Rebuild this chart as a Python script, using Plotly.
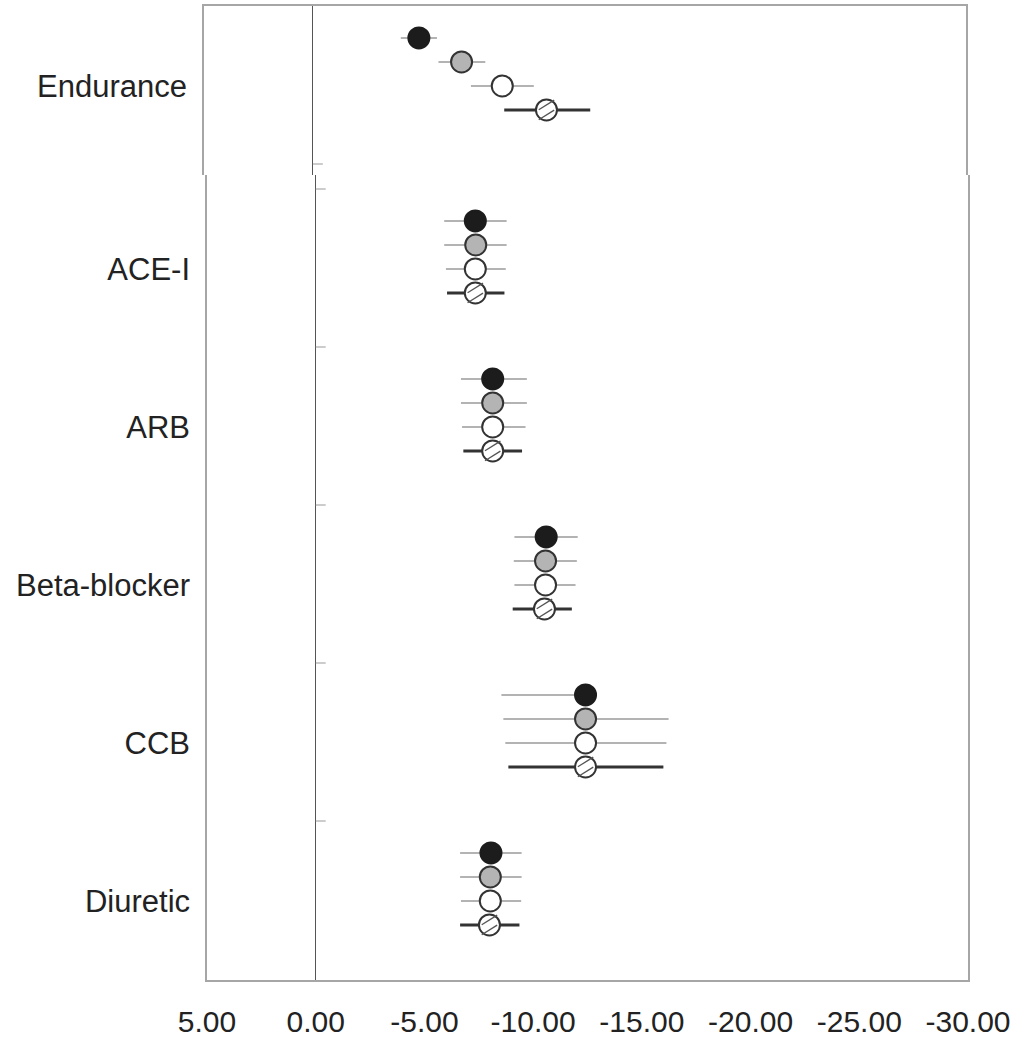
import plotly.graph_objects as go

# ---------------- data ----------------
categories = ["Endurance", "ACE-I", "ARB", "Beta-blocker", "CCB", "Diuretic"]
series_names = ["Model 1", "Model 2", "Model 3", "Model 4"]

est_1 = [-4.87, -7.34, -8.14, -10.60, -12.41, -8.06]
lo_1 = [-4.04, -5.91, -6.68, -9.14, -8.54, -6.64]
hi_1 = [-5.70, -8.78, -9.71, -12.05, -12.41, -9.47]

est_2 = [-6.83, -7.36, -8.14, -10.57, -12.41, -8.03]
lo_2 = [-5.77, -5.91, -6.68, -9.11, -8.63, -6.64]
hi_2 = [-7.92, -8.78, -9.71, -12.01, -16.23, -9.47]

est_3 = [-8.70, -7.34, -8.14, -10.57, -12.41, -8.03]
lo_3 = [-7.26, -5.99, -6.73, -9.14, -8.72, -6.68]
hi_3 = [-10.15, -8.74, -9.65, -11.95, -16.13, -9.45]

est_4 = [-10.73, -7.34, -8.14, -10.52, -12.41, -7.99]
lo_4 = [-8.79, -6.04, -6.79, -9.06, -8.86, -6.64]
hi_4 = [-12.74, -8.68, -9.49, -11.78, -15.99, -9.37]

x_ticks = [5, 0, -5, -10, -15, -20, -25, -30]
x_tick_labels = ["5.00", "0.00", "-5.00", "-10.00", "-15.00", "-20.00", "-25.00", "-30.00"]

# ---------------- layout helpers ----------------
W, H = 1025, 1038
PX_UNIT = 24.0            # pixels per y unit
BAND = 158 / PX_UNIT      # category band height in y units
FIRST = 1.333             # first point offset inside band

top_px = (6, 175)
bot_px = (175, 980)
top_range = (top_px[1] - top_px[0]) / PX_UNIT
bot_range = (bot_px[1] - bot_px[0]) / PX_UNIT
bot_start = (189 - bot_px[0]) / PX_UNIT

est = [est_1, est_2, est_3, est_4]
lo = [lo_1, lo_2, lo_3, lo_4]
hi = [hi_1, hi_2, hi_3, hi_4]

styles = [
    dict(fill="#1c1c1c", edge="#1c1c1c", ci="#9a9a9a", ciw=1.5),
    dict(fill="#b4b4b4", edge="#333333", ci="#9a9a9a", ciw=1.5),
    dict(fill="#ffffff", edge="#333333", ci="#9a9a9a", ciw=1.5),
    dict(fill="#ffffff", edge="#333333", ci="#333333", ciw=3),
]


def band_start(k):
    if k == 0:
        return 0.0
    return bot_start + (k - 1) * BAND


def ypos(k, j):
    return band_start(k) + FIRST + j


fig = go.Figure()

for j in range(4):
    st = styles[j]
    for panel in ("top", "bot"):
        ks = [0] if panel == "top" else list(range(1, len(categories)))
        xs = [est[j][k] for k in ks]
        ys = [ypos(k, j) for k in ks]
        plus = [lo[j][k] - est[j][k] for k in ks]
        minus = [est[j][k] - hi[j][k] for k in ks]
        axes = dict(xaxis="x2", yaxis="y2") if panel == "top" else dict(xaxis="x", yaxis="y")
        fig.add_trace(go.Scatter(
            x=xs, y=ys, mode="markers", name=series_names[j], showlegend=False,
            marker=dict(size=21, color=st["fill"], line=dict(color=st["edge"], width=2)),
            error_x=dict(type="data", symmetric=False, array=plus, arrayminus=minus,
                         color=st["ci"], thickness=st["ciw"], width=0),
            **axes))
        if j == 3:
            for off in (-5 / PX_UNIT, 5 / PX_UNIT):
                fig.add_trace(go.Scatter(
                    x=xs, y=[y + off for y in ys], mode="markers", showlegend=False,
                    hoverinfo="skip",
                    marker=dict(symbol="line-ew", size=13, angle=-32,
                                line=dict(color="#555555", width=1.3)),
                    **axes))

# separator ticks on the zero line
tick_len = -10 / (761 / 35.0)
shapes = []
shapes.append(dict(type="line", xref="x2", yref="y2", x0=0, x1=tick_len,
                   y0=BAND, y1=BAND, line=dict(color="#999999", width=1)))
for k in range(1, len(categories)):
    yb = band_start(k)
    shapes.append(dict(type="line", xref="x", yref="y", x0=0, x1=tick_len,
                       y0=yb, y1=yb, line=dict(color="#999999", width=1)))

frame_col = "#a6a6a6"
font = dict(family="Liberation Sans, Arial, sans-serif", size=30, color="#222222")
label_font = dict(family="Liberation Sans, Arial, sans-serif", size=31, color="#222222")

fig.update_layout(
    width=W, height=H,
    margin=dict(l=0, r=0, t=0, b=0),
    paper_bgcolor="white", plot_bgcolor="white",
    font=font,
    shapes=shapes,
    xaxis=dict(domain=[207 / W, 968 / W], range=[5, -30], anchor="y",
               tickvals=x_ticks, ticktext=x_tick_labels, ticks="",
               showgrid=False, zeroline=True, zerolinecolor="#555555", zerolinewidth=1,
               showline=True, linecolor=frame_col, linewidth=1.5, mirror=False,
               ticklabelstandoff=14, automargin=False, tickfont=font),
    yaxis=dict(domain=[1 - bot_px[1] / H, 1 - bot_px[0] / H], range=[bot_range, 0],
               anchor="x", tickvals=[ypos(k, 2) for k in range(1, len(categories))],
               ticktext=categories[1:], ticks="", showgrid=False, zeroline=False,
               showline=True, linecolor=frame_col, linewidth=1.5, mirror=True,
               ticklabelstandoff=9, automargin=False, tickfont=label_font),
    xaxis2=dict(domain=[204 / W, 966 / W], range=[5, -30], anchor="y2", side="top",
                showticklabels=False, ticks="", showgrid=False,
                zeroline=True, zerolinecolor="#555555", zerolinewidth=1,
                showline=True, linecolor=frame_col, linewidth=1.5, mirror=False,
                automargin=False),
    yaxis2=dict(domain=[1 - top_px[1] / H, 1 - top_px[0] / H], range=[top_range, 0],
                anchor="x2", tickvals=[ypos(0, 2)], ticktext=[categories[0]], ticks="",
                showgrid=False, zeroline=False,
                showline=True, linecolor=frame_col, linewidth=1.5, mirror=True,
                ticklabelstandoff=9, automargin=False, tickfont=label_font),
)

fig.write_html("out.html")
